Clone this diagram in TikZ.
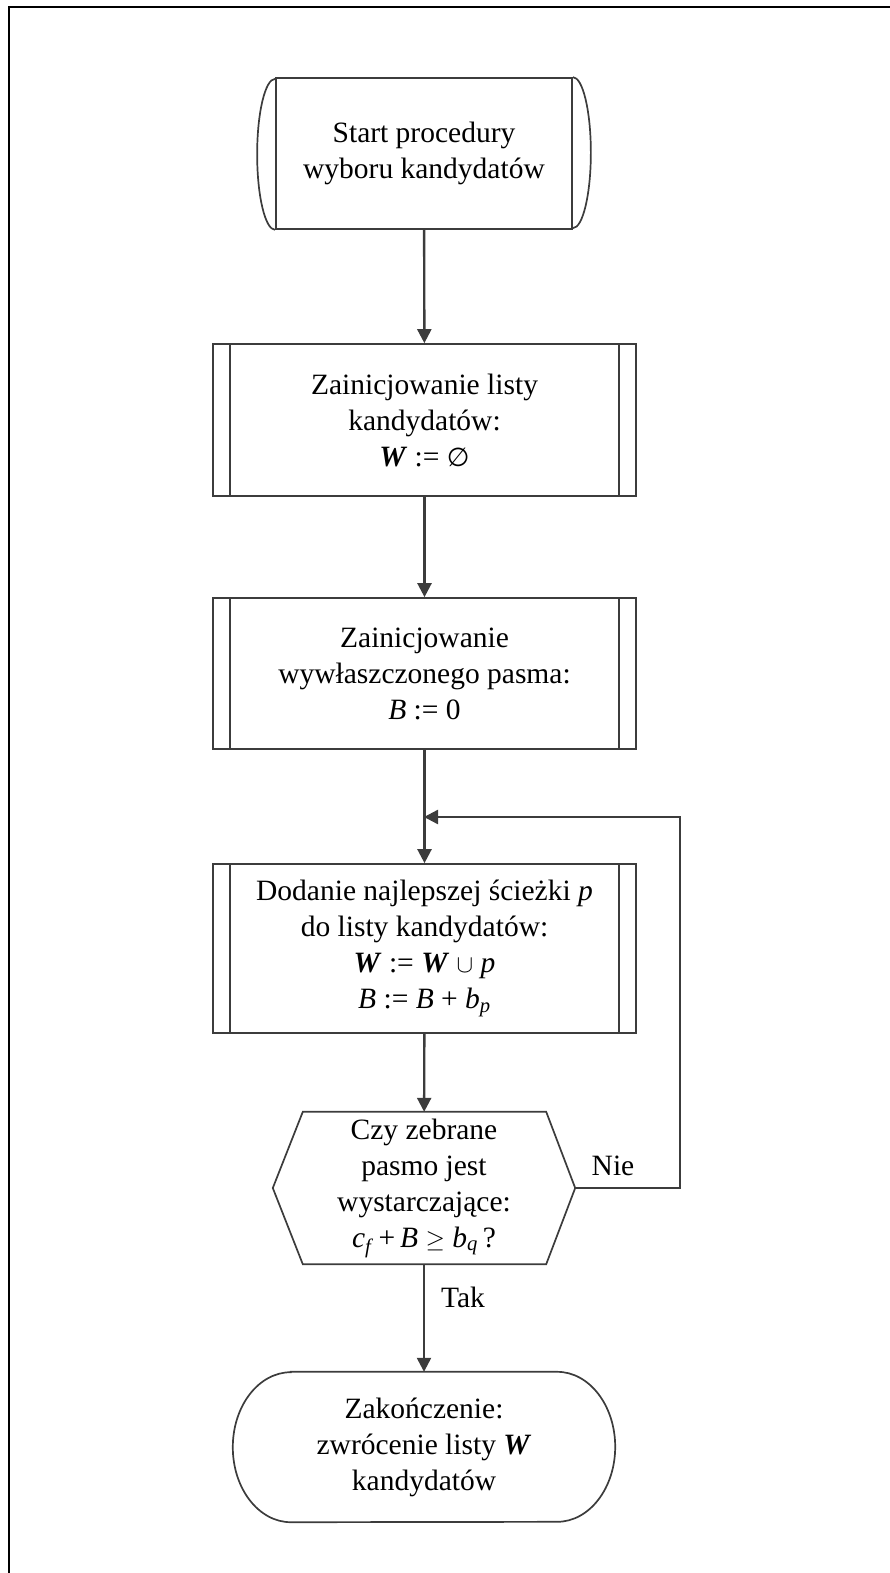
\documentclass[tikz,border=0pt]{standalone}
\usepackage{fontspec}
\setmainfont{Liberation Serif}
\newfontfamily\symfont{DejaVu Sans}
\usetikzlibrary{arrows.meta,calc}
\definecolor{linegray}{RGB}{60,60,60}
\newcommand{\bW}{\textbf{\textit{W}}}
\newcommand{\iv}[1]{\textit{#1}}
\tikzset{
  outline/.style={draw=linegray, line width=1.7pt},
  conn/.style={draw=linegray, line width=2.4pt,
    -{Triangle[length=14pt,width=14pt]}},
  txt/.style={align=center, inner sep=0pt,
    font=\fontsize{29.5}{36}\selectfont},
  procbox/.style={txt, rectangle, outline, minimum width=423pt},
  lbl/.style={inner sep=0pt, font=\fontsize{29.5}{36}\selectfont},
}
\begin{document}
\begin{tikzpicture}[x=1pt,y=-1pt]
\useasboundingbox (0,0) rectangle (890,1573);
% page frame (only left and top edges fall inside the page)
\draw[black, line width=2.2pt] (9,1580) -- (9,7) -- (895,7);

% start terminal
\node[txt, rectangle, outline, minimum width=296pt, minimum height=151pt]
  (start) at (424,153.5) {Start procedury\\wyboru kandydatów};
\draw[outline] (start.north east)
  arc[start angle=90, end angle=-90, x radius=18pt, y radius=75.5pt];
\draw[outline] (start.south west)
  arc[start angle=270, end angle=90, x radius=18pt, y radius=75.5pt];

% predefined-process boxes
\node[procbox, minimum height=152pt] (init) at (424.5,420)
  {Zainicjowanie listy\\kandydatów:\\\bW\ := {\symfont\fontsize{26}{36}\selectfont ∅}};
\node[procbox, minimum height=151pt] (band) at (424.5,673.5)
  {Zainicjowanie\\wywłaszczonego pasma:\\\iv{B} := 0};
\node[procbox, minimum height=169pt] (add) at (424.5,948.5)
  {Dodanie najlepszej ścieżki \iv{p}\\do listy kandydatów:\\
   \bW\ := \bW\ $\cup$ \iv{p}\\\iv{B} := \iv{B} + \iv{b}\textsubscript{\iv{p}}};
\foreach \n in {init,band,add}{
  \draw[outline] ([xshift=18pt]\n.north west) -- ([xshift=18pt]\n.south west);
  \draw[outline] ([xshift=-18pt]\n.north east) -- ([xshift=-18pt]\n.south east);
}

% decision hexagon
\node[txt, minimum width=302pt, minimum height=152pt] (hex) at (424,1188)
  {Czy zebrane\\pasmo jest\\wystarczające:\\
   \iv{c}\textsubscript{\iv{f}}\,+\,\iv{B} $\geq$ \iv{b}\textsubscript{\iv{q}}\,?};
\draw[outline] (hex.west) -- ([xshift=30pt]hex.north west)
  -- ([xshift=-29pt]hex.north east) -- (hex.east)
  -- ([xshift=-29pt]hex.south east) -- ([xshift=30pt]hex.south west) -- cycle;

% end terminal
\node[txt, minimum width=382pt, minimum height=150pt] (end) at (424,1447)
  {Zakończenie:\\zwrócenie listy \bW\\kandydatów};
\draw[outline] ([xshift=58pt]end.north west) -- ([xshift=-58pt]end.north east)
  arc[start angle=90, end angle=-90, x radius=58pt, y radius=75pt]
  -- ([xshift=58pt]end.south west)
  arc[start angle=270, end angle=90, x radius=58pt, y radius=75pt] -- cycle;

% connectors
\coordinate (join) at (424,817);
\draw[conn] (start) -- (init);
\draw[conn] (init) -- (band);
\draw[conn] (band) -- (add);
\draw[conn] (add) -- (hex);
\draw[conn] (hex) -- (end);
\draw[conn] (hex.east) -- ++(105,0) |- (join);

% branch labels
\node[lbl] (no) at (613,1166) {Nie};
\node[lbl] (yes) at (463,1297) {Tak};
\end{tikzpicture}
\end{document}
